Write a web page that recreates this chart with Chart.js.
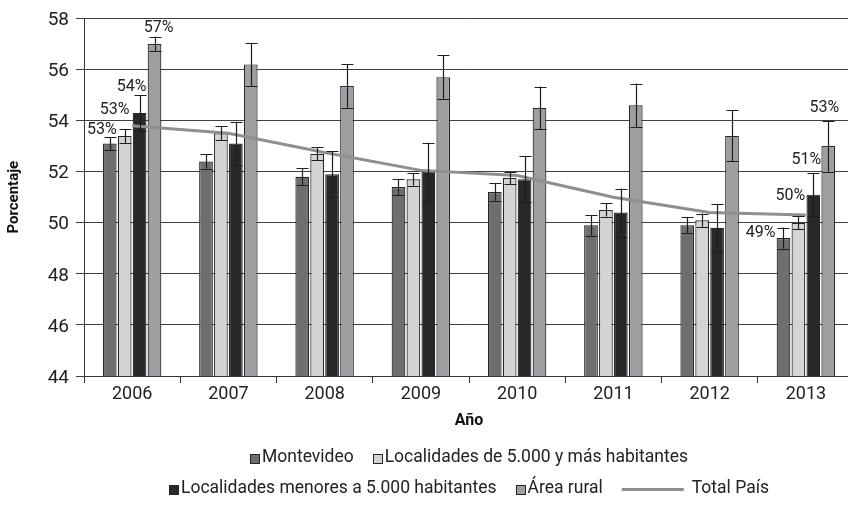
<!DOCTYPE html>
<html>
<head>
<meta charset="utf-8">
<script src="https://cdn.jsdelivr.net/npm/chart.js@4.4.0/dist/chart.umd.min.js"></script>
<style>
html, body { margin: 0; padding: 0; background: #ffffff; }
#wrap { width: 848px; height: 505px; overflow: hidden; }
</style>
</head>
<body>
<div id="wrap"><canvas id="chart" width="860" height="505"></canvas></div>
<script>
// values
var years = ["2006", "2007", "2008", "2009", "2010", "2011", "2012", "2013"];
var seriesNames = ["Montevideo", "Localidades de 5.000 y más habitantes", "Localidades menores a 5.000 habitantes", "Área rural", "Total País"];

var montevideo = [53.1, 52.4, 51.8, 51.4, 51.2, 49.9, 49.9, 49.4];
var montevideoErr = [0.25, 0.28, 0.33, 0.32, 0.34, 0.40, 0.32, 0.41];
var localidadesMas5000 = [53.4, 53.5, 52.7, 51.7, 51.75, 50.5, 50.1, 50.0];
var localidadesMas5000Err = [0.27, 0.28, 0.25, 0.25, 0.25, 0.26, 0.26, 0.25];
var localidadesMenores5000 = [54.3, 53.1, 51.9, 52.0, 51.7, 50.4, 49.8, 51.1];
var localidadesMenores5000Err = [0.70, 0.85, 0.90, 1.13, 0.90, 0.94, 0.92, 0.85];
var areaRural = [57.0, 56.2, 55.35, 55.7, 54.5, 54.6, 53.4, 53.0];
var areaRuralErr = [0.28, 0.85, 0.85, 0.85, 0.83, 0.85, 1.0, 1.0];
var totalPais = [53.8, 53.5, 52.75, 52.05, 51.85, 51.0, 50.4, 50.3];

var yTicks = [44, 46, 48, 50, 52, 54, 56, 58];

var FONT = "Roboto";

// error bars, drawn from each dataset's "errors" array
var errorBarsPlugin = {
    id: "errorBars",
    afterDatasetsDraw: function (chart, args, opts) {
        var ctx = chart.ctx;
        var yScale = chart.scales.y;
        ctx.save();
        ctx.strokeStyle = opts.color;
        ctx.lineWidth = opts.lineWidth;
        chart.data.datasets.forEach(function (ds, i) {
            if (!ds.errors) return;
            var meta = chart.getDatasetMeta(i);
            meta.data.forEach(function (bar, j) {
                var v = ds.data[j];
                var e = ds.errors[j];
                var top = yScale.getPixelForValue(v + e);
                var bottom = yScale.getPixelForValue(v - e);
                var x = Math.round(bar.x) + 0.5;
                ctx.beginPath();
                ctx.moveTo(x, top);
                ctx.lineTo(x, bottom);
                ctx.moveTo(x - opts.capWidth / 2, Math.round(top) + 0.5);
                ctx.lineTo(x + opts.capWidth / 2, Math.round(top) + 0.5);
                ctx.moveTo(x - opts.capWidth / 2, Math.round(bottom) + 0.5);
                ctx.lineTo(x + opts.capWidth / 2, Math.round(bottom) + 0.5);
                ctx.stroke();
            });
        });
        ctx.restore();
    }
};

// percentage labels for the first and last year
var pctLabelsPlugin = {
    id: "pctLabels",
    afterDatasetsDraw: function (chart, args, opts) {
        var ctx = chart.ctx;
        ctx.save();
        ctx.font = opts.font;
        ctx.fillStyle = opts.color;
        ctx.textAlign = "center";
        ctx.textBaseline = "middle";
        opts.items.forEach(function (it) {
            var bar = chart.getDatasetMeta(it.ds).data[it.i];
            var value = chart.data.datasets[it.ds].data[it.i];
            ctx.fillText(Math.round(value) + "%", bar.x + it.dx, bar.y + it.dy);
        });
        ctx.restore();
    }
};

// legend in two rows, centred under the plot
var rowLegendPlugin = {
    id: "rowLegend",
    afterDraw: function (chart, args, opts) {
        var ctx = chart.ctx;
        var area = chart.chartArea;
        var cx = (area.left + area.right) / 2;
        var base = chart.scales.x.bottom;
        ctx.save();
        ctx.font = opts.font;
        ctx.textBaseline = "middle";
        ctx.textAlign = "left";
        opts.rows.forEach(function (row, r) {
            var y = base + opts.rowOffsets[r];
            var widths = row.map(function (i) {
                var ds = chart.data.datasets[i];
                var sample = ds.type === "line" ? opts.lineLength + opts.lineGap : opts.boxSize + opts.boxGap;
                return sample + ctx.measureText(ds.label).width;
            });
            var total = widths.reduce(function (a, b) { return a + b; }, 0) + opts.itemGap * (row.length - 1);
            var x = cx - total / 2;
            row.forEach(function (i, k) {
                var ds = chart.data.datasets[i];
                if (ds.type === "line") {
                    ctx.strokeStyle = ds.borderColor;
                    ctx.lineWidth = ds.borderWidth;
                    ctx.beginPath();
                    ctx.moveTo(x, Math.round(y) + 0.5);
                    ctx.lineTo(x + opts.lineLength, Math.round(y) + 0.5);
                    ctx.stroke();
                    ctx.fillStyle = opts.color;
                    ctx.fillText(ds.label, x + opts.lineLength + opts.lineGap, y);
                } else {
                    var bx = Math.round(x) + 0.5;
                    var by = Math.round(y - opts.boxSize / 2) + 0.5;
                    ctx.fillStyle = ds.backgroundColor;
                    ctx.fillRect(bx, by, opts.boxSize, opts.boxSize);
                    ctx.strokeStyle = ds.borderColor;
                    ctx.lineWidth = 1;
                    ctx.strokeRect(bx, by, opts.boxSize, opts.boxSize);
                    ctx.fillStyle = opts.color;
                    ctx.fillText(ds.label, x + opts.boxSize + opts.boxGap, y);
                }
                x += widths[k] + opts.itemGap;
            });
        });
        ctx.restore();
    }
};

function barSet(label, data, errors, color) {
    return {
        type: "bar",
        label: label,
        data: data,
        errors: errors,
        backgroundColor: color,
        borderColor: "#262626",
        borderWidth: 1.2,
        categoryPercentage: 0.62,
        barPercentage: 0.92,
        order: 1
    };
}

var chart = new Chart(document.getElementById("chart"), {
    data: {
        labels: years,
        datasets: [
            barSet(seriesNames[0], montevideo, montevideoErr, "#6e6e72"),
            barSet(seriesNames[1], localidadesMas5000, localidadesMas5000Err, "#d3d4d6"),
            barSet(seriesNames[2], localidadesMenores5000, localidadesMenores5000Err, "#282828"),
            barSet(seriesNames[3], areaRural, areaRuralErr, "#9d9ea2"),
            {
                type: "line",
                label: seriesNames[4],
                data: totalPais,
                borderColor: "#8f8f8f",
                borderWidth: 3,
                pointRadius: 0,
                tension: 0,
                fill: false,
                order: 0
            }
        ]
    },
    plugins: [errorBarsPlugin, pctLabelsPlugin, rowLegendPlugin],
    options: {
        responsive: false,
        animation: false,
        layout: {
            padding: { left: 0, right: 6, top: 16, bottom: 74 }
        },
        scales: {
            x: {
                grid: {
                    drawOnChartArea: false,
                    drawTicks: true,
                    tickLength: 7,
                    color: "#333333",
                    offset: true
                },
                border: { display: true, color: "#333333", width: 1 },
                ticks: {
                    font: { family: FONT, size: 18 },
                    color: "#222222",
                    padding: 1,
                    maxRotation: 0
                },
                title: {
                    display: true,
                    text: "Año",
                    font: { family: FONT, size: 16, weight: "bold" },
                    color: "#111111",
                    padding: { top: 0, bottom: 0 }
                },
                afterFit: function (scale) { scale.height = 55; }
            },
            y: {
                min: 44,
                max: 58,
                afterBuildTicks: function (scale) {
                    scale.ticks = yTicks.map(function (v) { return { value: v }; });
                },
                grid: {
                    color: "#404040",
                    lineWidth: 1,
                    tickLength: 8,
                    drawTicks: true
                },
                border: { display: true, color: "#333333", width: 1 },
                ticks: {
                    font: { family: FONT, size: 19 },
                    color: "#222222",
                    padding: 7,
                    labelOffset: 2
                },
                title: {
                    display: true,
                    text: "Porcentaje",
                    font: { family: FONT, size: 15, weight: "bold" },
                    color: "#111111",
                    padding: { top: 5, bottom: 4 }
                },
                afterFit: function (scale) { scale.width = 84; }
            }
        },
        plugins: {
            legend: { display: false },
            tooltip: { enabled: false },
            errorBars: { color: "#1e1e1e", lineWidth: 1.2, capWidth: 12 },
            pctLabels: {
                font: "16px " + FONT,
                color: "#222222",
                items: [
                    { ds: 0, i: 0, dx: -8, dy: -14 },
                    { ds: 1, i: 0, dx: -10, dy: -26 },
                    { ds: 2, i: 0, dx: -8, dy: -26 },
                    { ds: 3, i: 0, dx: 4, dy: -16 },
                    { ds: 0, i: 7, dx: -23, dy: -5 },
                    { ds: 1, i: 7, dx: -8, dy: -27 },
                    { ds: 2, i: 7, dx: -7, dy: -35 },
                    { ds: 3, i: 7, dx: -4, dy: -38 }
                ]
            },
            rowLegend: {
                font: "17.5px " + FONT,
                color: "#222222",
                rows: [[0, 1], [2, 3, 4]],
                rowOffsets: [27, 58],
                boxSize: 9,
                boxGap: 3,
                lineLength: 62,
                lineGap: 8,
                itemGap: 19
            }
        }
    }
});
</script>
</body>
</html>
